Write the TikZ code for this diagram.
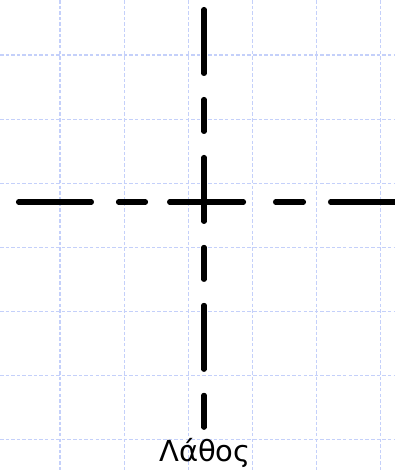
\documentclass[tikz,border=0pt]{standalone}
\usepackage{fontspec}
\setmainfont{DejaVu Sans}
\usepackage{xcolor}
\definecolor{gridblue}{RGB}{196,208,250}

\begin{document}
\begin{tikzpicture}[
  x=0.02cm, y=-0.02cm,
  gridline/.style={draw=gridblue, line width=.57pt, dash pattern=on 2pt off 1.2pt},
  axisline/.style={draw=black, line width=2.9pt, line cap=round},
  label/.style={font=\fontsize{16.5}{19}\selectfont, inner sep=0pt}
]
\useasboundingbox (0,0) rectangle (395,470);

% ---------- background grid ----------
\foreach \gx in {60,124,...,380}
  \draw[gridline] (\gx,0) -- (\gx,470);
\foreach \gy in {55,119,...,439}
  \draw[gridline] (0,\gy) -- (395,\gy);

% ---------- end points ----------
\coordinate (left)   at (18.5,202);
\coordinate (right)  at (430,202);
\coordinate (top)    at (204,9.5);
\coordinate (bottom) at (204,427.5);

% ---------- dashed cross ----------
\draw[axisline, dash pattern=on 41.5pt off 15.4pt on 15.4pt off 13.7pt on 42.1pt off 18.2pt on 15.9pt off 15.4pt on 60pt]
  (left) -- (right);
\draw[axisline, dash pattern=on 36.4pt off 14.8pt on 18.2pt off 14.8pt]
  (top) -- (bottom);

% ---------- label ----------
\node[label, anchor=base] (err) at (205,461.5) {Λάθος};

\end{tikzpicture}
\end{document}
